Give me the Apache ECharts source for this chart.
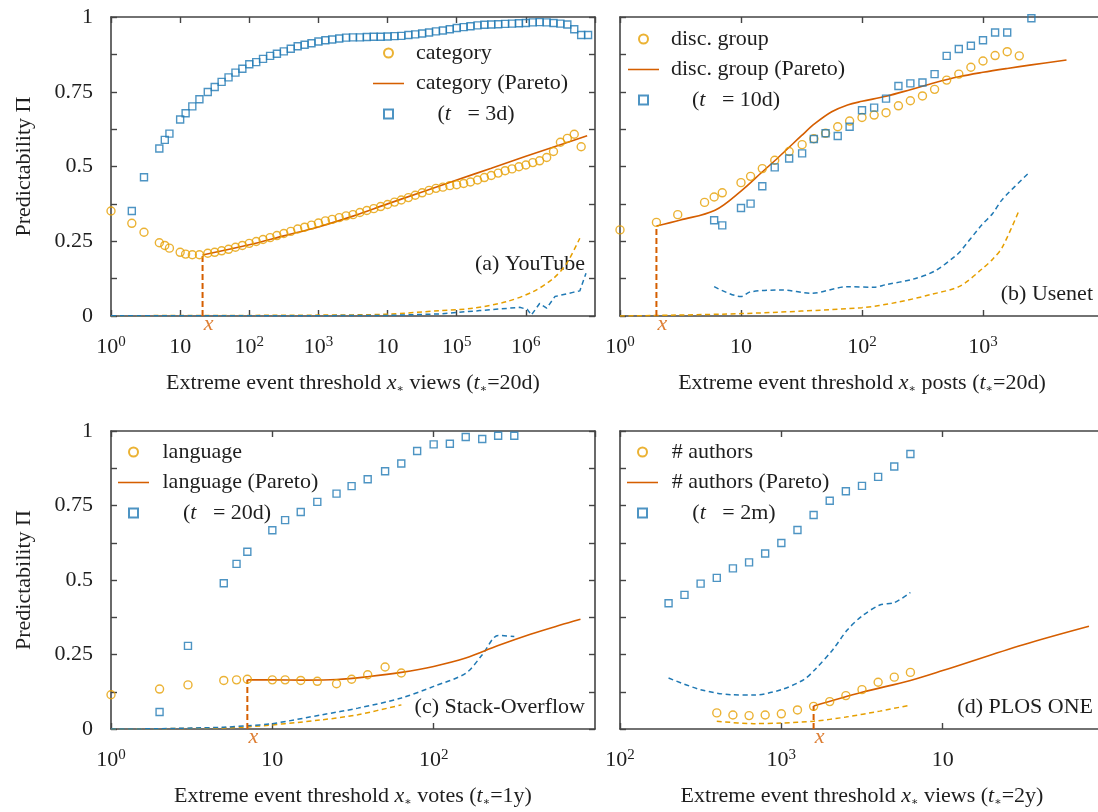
<!DOCTYPE html>
<html><head><meta charset="utf-8">
<script src="https://cdn.jsdelivr.net/npm/echarts@6/dist/echarts.min.js"></script>
<style>html,body{margin:0;padding:0;background:#fff}#c{width:1098px;height:812px}</style>
</head><body><div id="c"></div>
<script>
// ---------------- data ----------------
const yTickLabels = ['0', '0.25', '0.5', '0.75', '1'];

// (a) YouTube
const aX = [1,2,3,5,6,7,10,12,15,19,
  25.1,31.6,39.8,50.1,63.1,79.4,
  1e2,1.26e2,1.58e2,2e2,2.51e2,3.16e2,3.98e2,5.01e2,6.31e2,7.94e2,
  1e3,1.26e3,1.58e3,2e3,2.51e3,3.16e3,3.98e3,5.01e3,6.31e3,7.94e3,
  1e4,1.26e4,1.58e4,2e4,2.51e4,3.16e4,3.98e4,5.01e4,6.31e4,7.94e4,
  1e5,1.26e5,1.58e5,2e5,2.51e5,3.16e5,3.98e5,5.01e5,6.31e5,7.94e5,
  1e6,1.26e6,1.58e6,2e6,2.51e6,3.16e6,3.98e6,5.01e6,6.31e6,7.94e6];
const aCircle = [0.351,0.310,0.280,0.245,0.236,0.227,0.213,0.207,0.205,0.205,
  0.210,0.213,0.218,0.223,0.230,0.236,
  0.243,0.249,0.256,0.262,0.269,0.276,0.283,0.291,0.297,0.304,
  0.311,0.318,0.323,0.329,0.335,0.339,0.346,0.353,0.359,0.366,
  0.373,0.381,0.388,0.396,0.404,0.412,0.420,0.427,0.431,0.436,
  0.439,0.443,0.448,0.455,0.463,0.470,0.478,0.486,0.492,0.499,
  0.505,0.513,0.519,0.530,0.550,0.581,0.594,0.608,0.566];
const aSquareX = aX.slice(1);
const aSquare = [0.351,0.464,0.560,0.589,0.610,0.657,0.678,0.701,0.725,
  0.749,0.766,0.783,0.798,0.814,0.827,
  0.842,0.849,0.860,0.870,0.877,0.885,0.894,0.902,0.907,0.912,
  0.918,0.922,0.925,0.928,0.931,0.932,0.932,0.933,0.934,0.934,
  0.935,0.936,0.937,0.940,0.942,0.945,0.948,0.952,0.955,0.959,
  0.963,0.966,0.969,0.972,0.974,0.975,0.976,0.977,0.978,0.979,
  0.980,0.982,0.983,0.982,0.980,0.978,0.975,0.959,0.940,0.940];
const aParetoX = [21.1,100,316,1000,3162,1e4,31623,1e5,316228,1e6,3.16e6,7.7e6];
const aPareto = [0.204,0.238,0.268,0.298,0.334,0.375,0.415,0.455,0.494,0.534,0.573,0.603];
const aGoldDashX = [1,100,1000,1e4,56234,173780,524807,1.26e6,2.51e6,3.89e6,6.03e6];
const aGoldDash = [0.001,0.002,0.003,0.006,0.018,0.026,0.048,0.081,0.126,0.176,0.26];
const aBlueDashX = [1,1000,1e4,56234,213800,812800,1.05e6,1.2e6,1.58e6,2e6,2.63e6,3.89e6,4.79e6,6.03e6,7.41e6];
const aBlueDash = [0.001,0.001,0.002,0.007,0.018,0.029,0.022,0.003,0.042,0.026,0.065,0.074,0.079,0.084,0.143];
const aMin = [21.1, 0.204];

// (b) Usenet
const bCircleX = [1,2,3,5,6,7,10,12,15,19,25,32,40,50,63,79,100,126,158,200,251,316,398,501,631,794,1000,1259,1585,1995];
const bCircle = [0.288,0.313,0.339,0.380,0.398,0.412,0.446,0.467,0.493,0.521,0.550,0.573,0.593,0.611,0.633,0.652,0.664,0.672,0.680,0.703,0.720,0.736,0.758,0.789,0.809,0.832,0.853,0.871,0.884,0.870];
const bSquareX = [6,7,10,12,15,19,25,32,40,50,63,79,100,126,158,200,251,316,398,501,631,794,1000,1259,1585,2512];
const bSquare = [0.320,0.303,0.361,0.376,0.434,0.497,0.527,0.544,0.592,0.611,0.602,0.633,0.688,0.697,0.727,0.769,0.778,0.781,0.809,0.870,0.893,0.904,0.922,0.948,0.948,0.996];
const bParetoX = [2,3.16,6.1,10,14.8,19.1,24.5,31.6,40.7,56.2,75.9,100,158,251,398,631,1000,1585,2512,4898];
const bPareto = [0.301,0.321,0.354,0.418,0.480,0.520,0.561,0.603,0.643,0.683,0.706,0.718,0.735,0.757,0.780,0.800,0.815,0.828,0.840,0.856];
const bGoldDashX = [1,10,100,191,372,646,1000,1202,1445,1995];
const bGoldDash = [0.0,0.008,0.028,0.045,0.072,0.10,0.16,0.19,0.23,0.355];
const bBlueDashX = [6,10,12,21.9,38,75.9,126,158,263,398,589,646,955,1202,1445,2455];
const bBlueDash = [0.098,0.065,0.081,0.087,0.076,0.098,0.096,0.105,0.123,0.150,0.200,0.215,0.300,0.343,0.390,0.483];
const bMin = [2, 0.301];

// (c) Stack-Overflow
const cCircleX = [1,2,3,5,6,7,10,12,15,19,25,31,39,50,63];
const cCircle = [0.115,0.134,0.148,0.163,0.165,0.167,0.165,0.165,0.163,0.160,0.152,0.167,0.182,0.208,0.188];
const cSquareX = [2,3,5,6,7,10,12,15,19,25,31,39,50,63,79,100,126,158,200,251,316];
const cSquare = [0.057,0.279,0.489,0.554,0.595,0.667,0.701,0.728,0.762,0.790,0.815,0.838,0.865,0.891,0.933,0.955,0.957,0.980,0.973,0.984,0.984];
const cParetoX = [7,10,15.8,25.1,39.8,63.1,100,158,251,398,603,813];
const cPareto = [0.165,0.165,0.164,0.166,0.176,0.190,0.210,0.238,0.280,0.318,0.348,0.368];
const cGoldDashX = [1,3,7,20.4,33.9,63.1];
const cGoldDash = [0.0,0.002,0.007,0.031,0.048,0.081];
const cBlueDashX = [1,2,5,7,10,20.4,33.9,63.1,100,158,200,251,316];
const cBlueDash = [0.0,0.001,0.006,0.011,0.018,0.048,0.070,0.104,0.143,0.187,0.249,0.314,0.310];
const cMin = [7, 0.165];

// (d) PLOS ONE
const dCircleX = [398,501,631,794,1000,1259,1585,1995,2512,3162,3981,5012,6310];
const dCircle = [0.054,0.047,0.045,0.047,0.051,0.064,0.076,0.092,0.112,0.132,0.157,0.174,0.190];
const dSquareX = [200,251,316,398,501,631,794,1000,1259,1585,1995,2512,3162,3981,5012,6310];
const dSquare = [0.422,0.450,0.488,0.507,0.539,0.559,0.589,0.624,0.668,0.718,0.766,0.798,0.816,0.846,0.881,0.923];
const dParetoX = [1585,3162,6310,10000,31600,80700];
const dPareto = [0.077,0.123,0.163,0.196,0.283,0.345];
const dGoldDashX = [398,676,1000,1585,2512,4074,6166];
const dGoldDash = [0.026,0.018,0.020,0.026,0.040,0.060,0.079];
const dBlueDashX = [200,316,490,676,1000,1380,1620,2090,2570,3162,4074,5012,6310];
const dBlueDash = [0.171,0.132,0.115,0.114,0.132,0.166,0.200,0.267,0.333,0.379,0.416,0.424,0.458];
const dMin = [1585, 0.077];

const legendNames = [
  ['category', 'category (Pareto)', '(t = 3d)'],
  ['disc. group', 'disc. group (Pareto)', '(t = 10d)'],
  ['language', 'language (Pareto)', '(t = 20d)'],
  ['# authors', '# authors (Pareto)', '(t = 2m)']
];
const xTitles = [
  'Extreme event threshold {it|x}{sub|∗} views ({it|t}{sub|∗}=20d)',
  'Extreme event threshold {it|x}{sub|∗} posts ({it|t}{sub|∗}=20d)',
  'Extreme event threshold {it|x}{sub|∗} votes ({it|t}{sub|∗}=1y)',
  'Extreme event threshold {it|x}{sub|∗} views ({it|t}{sub|∗}=2y)'
];
const panelTitles = ['(a) YouTube', '(b) Usenet', '(c) Stack-Overflow', '(d) PLOS ONE'];
const yTitle = 'Predictability Π';
const xRanges = [[1, 1e7], [1, 1e4], [1, 1e3], [1e2, 1e5]];

// ---------------- styling ----------------
const FONT = 'Liberation Serif';
const INK = '#1e1e1e';
const AXC = '#444';
const GOLD = '#E69F00';
const RED = '#D55E00';
const BLUE = '#2079B4';
const FS = 22;

const grids = [
  {left: 111, top: 17, width: 484, height: 299},
  {left: 620, top: 17, width: 484, height: 299},
  {left: 111, top: 431, width: 484, height: 298},
  {left: 620, top: 431, width: 484, height: 298}
].map(g => Object.assign({outerBoundsMode: 'none', containLabel: false}, g));

const rich = {
  sup: {fontFamily: FONT, fontSize: 15, lineHeight: 14, verticalAlign: 'top', color: INK},
  it: {fontFamily: FONT, fontStyle: 'italic', fontSize: FS, color: INK},
  sub: {fontFamily: 'DejaVu Serif', fontSize: 11, lineHeight: 11, verticalAlign: 'bottom', color: INK}
};

function xLabel(v) {
  const e = Math.round(Math.log10(v));
  if (e === 1 || e === 4) return '10';
  return '10{sup|' + e + '}';
}
function yLabel(v) {
  const k = Math.round(v * 8);
  if (k % 2) return '';
  return yTickLabels[k / 2];
}

const xAxes = [], yAxes = [];
grids.forEach((g, i) => {
  const [mn, mx] = xRanges[i];
  const span = Math.round(Math.log10(mx / mn));
  const common = {type: 'log', logBase: 10, gridIndex: i, min: mn, max: mx, splitNumber: span,
    axisLine: {show: true, onZero: false, lineStyle: {color: AXC, width: 1.6}},
    axisTick: {show: true, inside: true, length: 6, lineStyle: {color: AXC, width: 1.4}},
    splitLine: {show: false}, minorTick: {show: false}, minorSplitLine: {show: false}};
  xAxes.push(Object.assign({}, common, {position: 'bottom',
    axisLabel: {show: true, margin: 19, fontFamily: FONT, fontSize: FS, lineHeight: 24, color: INK,
      showMaxLabel: false, formatter: xLabel, rich: rich},
    name: xTitles[i], nameLocation: 'middle', nameGap: 55,
    nameTextStyle: {fontFamily: FONT, fontSize: FS, color: INK, lineHeight: 24, rich: rich}}));
  xAxes.push(Object.assign({}, common, {position: 'top', axisLabel: {show: false}}));
  const ycommon = {type: 'value', gridIndex: i, min: 0, max: 1, interval: 0.125,
    axisLine: {show: true, onZero: false, lineStyle: {color: AXC, width: 1.6}},
    axisTick: {show: true, inside: true, length: 6, lineStyle: {color: AXC, width: 1.4}},
    splitLine: {show: false}};
  const left = i % 2 === 0;
  yAxes.push(Object.assign({}, ycommon, {position: 'left',
    axisLabel: {show: left, margin: 18, fontFamily: FONT, fontSize: FS, color: INK, formatter: yLabel},
    name: left ? yTitle : '', nameLocation: 'middle', nameRotate: 90, nameGap: 76,
    nameTextStyle: {fontFamily: FONT, fontSize: FS, color: INK}}));
  yAxes.push(Object.assign({}, ycommon, {position: 'right', axisLabel: {show: false}}));
});

function pairs(xs, ys) { return ys.map((y, i) => [xs[i], y]); }
function base(i) { return {xAxisIndex: i * 2, yAxisIndex: i * 2, silent: true, animation: false}; }
function circles(i, xs, ys) {
  return Object.assign(base(i), {type: 'scatter', name: legendNames[i][0], data: pairs(xs, ys),
    symbol: 'circle', symbolSize: 8, z: 4,
    itemStyle: {color: 'rgba(255,255,255,0)', borderColor: GOLD, borderWidth: 1.4}});
}
function squares(i, xs, ys) {
  return Object.assign(base(i), {type: 'scatter', name: legendNames[i][2], data: pairs(xs, ys),
    symbol: 'rect', symbolSize: 7, z: 4,
    itemStyle: {color: 'rgba(255,255,255,0)', borderColor: BLUE, borderWidth: 1.4}});
}
function pareto(i, xs, ys) {
  return Object.assign(base(i), {type: 'line', name: legendNames[i][1], data: pairs(xs, ys),
    symbol: 'none', showSymbol: false, smooth: 0.35, z: 3,
    itemStyle: {color: RED}, lineStyle: {color: RED, width: 1.6}});
}
function dashed(i, xs, ys, color, smooth) {
  return Object.assign(base(i), {type: 'line', data: pairs(xs, ys), symbol: 'none', showSymbol: false,
    smooth: smooth, z: 2, itemStyle: {color: color},
    lineStyle: {color: color, width: 1.5, type: [5, 3.5]}});
}
function minLine(i, m) {
  return Object.assign(base(i), {type: 'line', data: [[m[0], 0], [m[0], m[1]]], symbol: 'none',
    showSymbol: false, z: 3, itemStyle: {color: RED}, lineStyle: {color: RED, width: 2, type: [6, 3]}});
}
function minLabel(i, m) {
  return Object.assign(base(i), {type: 'scatter', data: [[m[0], 0]], symbolSize: 0.1,
    itemStyle: {color: 'rgba(0,0,0,0)'}, z: 5,
    label: {show: true, position: 'inside', offset: [6, 8], formatter: 'x', color: RED,
      fontFamily: FONT, fontStyle: 'italic', fontSize: 22}});
}

const series = [];
const P = [
  [aX, aCircle, aSquareX, aSquare, aParetoX, aPareto, aGoldDashX, aGoldDash, aBlueDashX, aBlueDash, aMin],
  [bCircleX, bCircle, bSquareX, bSquare, bParetoX, bPareto, bGoldDashX, bGoldDash, bBlueDashX, bBlueDash, bMin],
  [cCircleX, cCircle, cSquareX, cSquare, cParetoX, cPareto, cGoldDashX, cGoldDash, cBlueDashX, cBlueDash, cMin],
  [dCircleX, dCircle, dSquareX, dSquare, dParetoX, dPareto, dGoldDashX, dGoldDash, dBlueDashX, dBlueDash, dMin]
];
P.forEach((p, i) => {
  series.push(dashed(i, p[6], p[7], GOLD, 0.3));
  series.push(dashed(i, p[8], p[9], BLUE, i === 0 ? false : 0.3));
  series.push(minLine(i, p[10]));
  series.push(pareto(i, p[4], p[5]));
  series.push(circles(i, p[0], p[1]));
  series.push(squares(i, p[2], p[3]));
  series.push(minLabel(i, p[10]));
});

const LINE_ICON = 'path://M0,0L60,0L60,3L0,3Z';
const SQUARE_ICON = 'path://M0,0L8,0L8,8L0,8Z';
const legendPos = [
  {left: 373, top: 42, pad: 7, pad3: 28.5},
  {left: 628, top: 28, pad: 7, pad3: 28},
  {left: 118, top: 441, pad: 8.5, pad3: 29},
  {left: 627, top: 441, pad: 8.7, pad3: 29.3}
];
const legends = legendPos.map((lp, i) => ({
  left: lp.left, top: lp.top, orient: 'vertical', padding: 0,
  itemWidth: 31, itemHeight: 9, itemGap: 8.5, selectedMode: false,
  textStyle: {fontFamily: FONT, fontSize: FS, color: INK, lineHeight: 20, padding: [0, 0, 0, lp.pad], rich: rich},
  formatter: function (name) {
    if (name.indexOf('(t') === 0) return '({it|t}   ' + name.slice(3);
    return name;
  },
  data: [
    {name: legendNames[i][0]},
    {name: legendNames[i][1], icon: LINE_ICON},
    {name: legendNames[i][2], icon: SQUARE_ICON, textStyle: {padding: [0, 0, 0, lp.pad3]}}
  ]
}));

const titlePos = [{right: 513, top: 253}, {right: 5, top: 283}, {right: 513, top: 696}, {right: 5, top: 696}];
const graphic = titlePos.map((tp, i) => ({
  type: 'text', right: tp.right, top: tp.top, silent: true,
  style: {text: panelTitles[i], font: FS + 'px "' + FONT + '"', fill: INK}
}));

const chart = echarts.init(document.getElementById('c'), null, {renderer: 'canvas'});
chart.setOption({
  animation: false,
  backgroundColor: '#fff',
  textStyle: {fontFamily: FONT},
  grid: grids,
  xAxis: xAxes,
  yAxis: yAxes,
  legend: legends,
  graphic: graphic,
  series: series
});
</script></body></html>
